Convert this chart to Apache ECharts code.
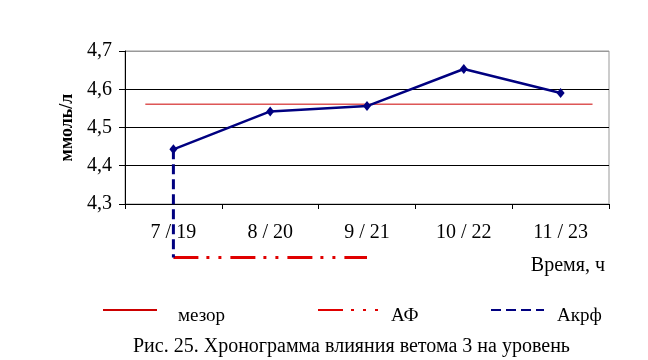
<!DOCTYPE html>
<html>
<head>
<meta charset="utf-8">
<script src="https://cdn.jsdelivr.net/npm/echarts@6/dist/echarts.min.js"></script>
<style>
html,body{margin:0;padding:0;background:#fff;}
#chart{width:648px;height:360px;}
</style>
</head>
<body>
<div id="chart"></div>
<script>
// ---- data ----
var categories = ['7 / 19', '8 / 20', '9 / 21', '10 / 22', '11 / 23'];
var values = [4.443, 4.542, 4.556, 4.653, 4.590];
var mesorLevel = 4.561;
var mesorSpan = [-0.29, 4.33];      // category-index span of the mesor line
var afLevel = 4.16;                 // level of the АФ / Акрф marker lines
var afSpan = [0, 2];                // АФ from 7/19 to 9/21
var akrfIndex = 0;                  // Акрф at 7/19
var yTicks = [4.3, 4.4, 4.5, 4.6, 4.7];
var yTickLabels = ['4,3', '4,4', '4,5', '4,6', '4,7'];
var seriesNames = ['мезор', 'АФ', 'Акрф'];
var yName = 'ммоль/л';
var xName = 'Время, ч';
var caption = 'Рис. 25. Хронограмма влияния ветома 3 на уровень';

var FONT = "'Liberation Serif', 'Times New Roman', serif";
var chart = echarts.init(document.getElementById('chart'), null, {renderer: 'canvas'});

function legendCfg(name, left, w, gap) {
  return {
    data: [name], left: left, top: 294, itemWidth: w, itemHeight: 14, padding: 0,
    itemStyle: {opacity: 0},
    formatter: function (n) { return '{t|' + n + '}'; },
    textStyle: {fontFamily: FONT, fontSize: 19, lineHeight: 20, color: '#000', padding: [12, 0, 0, gap],
      rich: {t: {fontFamily: FONT, fontSize: 19, lineHeight: 20, color: '#000'}}}
  };
}

var option = {
  backgroundColor: '#ffffff',
  animation: false,
  textStyle: {fontFamily: FONT, color: '#000'},
  title: [
    {text: xName, right: 43, top: 256, textStyle: {fontFamily: FONT, fontSize: 20, fontWeight: 'normal', color: '#000'}, padding: 0},
    {text: caption, left: 133, top: 337, textStyle: {fontFamily: FONT, fontSize: 20, fontWeight: 'normal', color: '#000'}, padding: 0}
  ],
  legend: [
    legendCfg(seriesNames[0], 102, 54, 16),
    legendCfg(seriesNames[1], 317, 60, 8),
    legendCfg(seriesNames[2], 490, 53, 8)
  ],
  grid: {left: 125, top: 51, width: 484, height: 153, show: true, borderColor: '#999', borderWidth: 1, backgroundColor: 'transparent'},
  xAxis: [
    {type: 'category', data: categories, boundaryGap: true,
     axisLine: {lineStyle: {color: '#000', width: 1}},
     axisTick: {show: true, length: 5, inside: false, lineStyle: {color: '#000'}},
     axisLabel: {fontFamily: FONT, fontSize: 20, color: '#000', margin: 19},
     splitLine: {show: false}},
    {type: 'value', min: -0.5, max: 4.5, show: false, splitLine: {show: false}}
  ],
  yAxis: {
    type: 'value', min: yTicks[0], max: yTicks[yTicks.length - 1], interval: 0.1,
    name: yName, nameLocation: 'middle', nameGap: 48, nameRotate: 90,
    nameTextStyle: {fontFamily: FONT, fontSize: 18, fontWeight: 'bold', color: '#000'},
    axisLine: {show: true, onZero: false, lineStyle: {color: '#000', width: 1}},
    axisTick: {show: true, length: 6, lineStyle: {color: '#000'}},
    axisLabel: {fontFamily: FONT, fontSize: 20, color: '#000', margin: 13,
      formatter: function (v) {
        for (var i = 0; i < yTicks.length; i++) { if (Math.abs(yTicks[i] - v) < 1e-6) return yTickLabels[i]; }
        return '';
      }},
    splitLine: {show: true, lineStyle: {color: ['#000', '#000', '#000', '#000', '#999'], width: 1}}
  },
  series: [
    {name: 'values', type: 'line', xAxisIndex: 0, data: values,
     symbol: 'diamond', symbolSize: [8, 10], z: 5,
     lineStyle: {color: '#000080', width: 2.5}, itemStyle: {color: '#000080'}},
    {name: seriesNames[0], type: 'line', xAxisIndex: 1, symbol: 'none', clip: false, z: 3,
     data: [[mesorSpan[0], mesorLevel], [mesorSpan[1], mesorLevel]],
     lineStyle: {color: '#cc0000', width: 1}, itemStyle: {color: '#cc0000'}},
    {name: seriesNames[1], type: 'line', xAxisIndex: 1, symbol: 'none', clip: false, z: 3,
     data: [[afSpan[0], afLevel], [afSpan[1], afLevel]],
     lineStyle: {color: '#e00000', width: 3, type: [25, 8, 3, 9, 3, 9]}, itemStyle: {color: '#e00000'}},
    {name: seriesNames[2], type: 'line', xAxisIndex: 1, symbol: 'none', clip: false, z: 4,
     data: [[akrfIndex, values[akrfIndex]], [akrfIndex, afLevel]],
     lineStyle: {color: '#000080', width: 3, type: [10, 5]}, itemStyle: {color: '#000080'}}
  ]
};
chart.setOption(option);
</script>
</body>
</html>
